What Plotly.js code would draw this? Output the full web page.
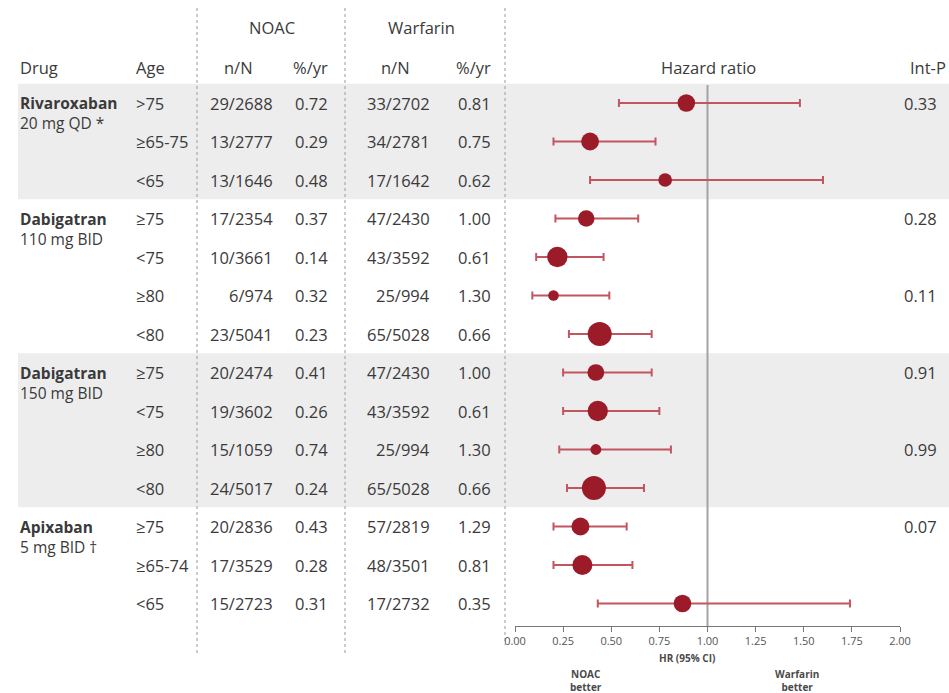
<!DOCTYPE html>
<html>
<head>
<meta charset="utf-8">
<script src="https://cdn.plot.ly/plotly-3.0.1.min.js"></script>
<style>html,body{margin:0;padding:0;background:#fff;}#chart{width:949px;height:693px;}</style>
</head>
<body>
<div id="chart"></div>
<script>
// ---- data ----
const drugs = ['Rivaroxaban', 'Dabigatran', 'Dabigatran', 'Apixaban'];
const doses = ['20 mg QD *', '110 mg BID', '150 mg BID', '5 mg BID †'];
const groupSizes = [3, 4, 4, 3];
const ages = ['>75', '≥65-75', '<65', '≥75', '<75', '≥80', '<80', '≥75', '<75', '≥80', '<80', '≥75', '≥65-74', '<65'];
const noacN = ['29/2688', '13/2777', '13/1646', '17/2354', '10/3661', '6/974', '23/5041', '20/2474', '19/3602', '15/1059', '24/5017', '20/2836', '17/3529', '15/2723'];
const noacRate = ['0.72', '0.29', '0.48', '0.37', '0.14', '0.32', '0.23', '0.41', '0.26', '0.74', '0.24', '0.43', '0.28', '0.31'];
const warfN = ['33/2702', '34/2781', '17/1642', '47/2430', '43/3592', '25/994', '65/5028', '47/2430', '43/3592', '25/994', '65/5028', '57/2819', '48/3501', '17/2732'];
const warfRate = ['0.81', '0.75', '0.62', '1.00', '0.61', '1.30', '0.66', '1.00', '0.61', '1.30', '0.66', '1.29', '0.81', '0.35'];
const hr = [0.89, 0.39, 0.78, 0.37, 0.22, 0.20, 0.44, 0.42, 0.43, 0.42, 0.41, 0.34, 0.35, 0.87];
const ciLow = [0.54, 0.20, 0.39, 0.21, 0.11, 0.09, 0.28, 0.25, 0.25, 0.23, 0.27, 0.20, 0.20, 0.43];
const ciHigh = [1.48, 0.73, 1.60, 0.64, 0.46, 0.49, 0.71, 0.71, 0.75, 0.81, 0.67, 0.58, 0.61, 1.74];
const intP = ['0.33', '', '', '0.28', '', '0.11', '', '0.91', '', '0.99', '', '0.07', '', ''];
const xTicks = [0, 0.25, 0.5, 0.75, 1, 1.25, 1.5, 1.75, 2];

// ---- derived ----
const rows = ages.map((_, i) => i);
const totalN = rows.map(i => +noacN[i].split('/')[1] + +warfN[i].split('/')[1]);
const W = 949, H = 693;
const ROWPX = 38.5;
const px = x => x / W;
const FONT = '"Open Sans", "Noto Sans", sans-serif';
const TXT = '#3a3a3a';
const fs = 16.5;
const maxN = Math.max.apply(null, totalN);
const markerD = totalN.map(n => 24 * Math.sqrt(n / maxN));

const trace = {
  type: 'scatter', mode: 'markers',
  x: hr, y: rows,
  marker: { color: '#9b1c28', size: markerD, sizemode: 'diameter', opacity: 1, line: { width: 0 } },
  error_x: {
    type: 'data', symmetric: false,
    array: rows.map(i => ciHigh[i] - hr[i]),
    arrayminus: rows.map(i => hr[i] - ciLow[i]),
    color: '#c25660', thickness: 2, width: 4
  },
  hoverinfo: 'x', showlegend: false, cliponaxis: false
};

const ann = [];
function T(text, x, y, anchor, opts) {
  opts = opts || {};
  ann.push(Object.assign({
    text: text, x: px(x), xref: 'paper', y: y, yref: 'y',
    xanchor: anchor, yanchor: 'middle', showarrow: false,
    font: { family: FONT, size: fs, color: TXT }
  }, opts));
}
// headers
T('NOAC', 272, -1.95, 'center');
T('Warfarin', 421, -1.95, 'center');
T('Drug', 18, -0.93, 'left');
T('Age', 134, -0.93, 'left');
T('n/N', 238, -0.93, 'center');
T('%/yr', 330, -0.93, 'right');
T('n/N', 395, -0.93, 'center');
T('%/yr', 493, -0.93, 'right');
T('Hazard ratio', 708, -0.93, 'center');
T('Int-P', 908, -0.93, 'left');

// drug labels (two lines in one text block; first line centred on the group's first row)
const drugFs = 15.5;
const lineGap = drugFs * 1.3;
let start = 0;
drugs.forEach((d, g) => {
  T('<b>' + d + '</b><br>' + doses[g], 18, start + (lineGap / 2) / ROWPX, 'left',
    { font: { family: FONT, size: drugFs, color: TXT }, align: 'left' });
  start += groupSizes[g];
});
rows.forEach(i => {
  T(ages[i], 134, i, 'left');
  T(noacN[i], 275, i, 'right');
  T(noacRate[i], 330, i, 'right');
  T(warfN[i], 432, i, 'right');
  T(warfRate[i], 493, i, 'right');
  if (intP[i]) T(intP[i], 902, i, 'left');
});

// bottom labels (paper)
function B(text, x, ypix, opts) {
  ann.push(Object.assign({
    text: text, x: px(x), xref: 'paper', y: 1 - ypix / H, yref: 'paper',
    xanchor: 'center', yanchor: 'middle', showarrow: false, align: 'center',
    font: { family: FONT, size: 10, color: '#4a4a4a' }
  }, opts || {}));
}
B('<b>HR (95% CI)</b>', 687, 658);
B('<b>NOAC<br>better</b>', 586, 680);
B('<b>Warfarin<br>better</b>', 797, 680);

// shapes
const shapes = [];
let s0 = 0;
groupSizes.forEach((n, g) => {
  if (g % 2 === 0) {
    shapes.push({ type: 'rect', layer: 'below', xref: 'paper', yref: 'y',
      x0: px(18), x1: 1, y0: s0 - 0.5, y1: s0 + n - 0.5,
      fillcolor: '#ededed', line: { width: 0 } });
  }
  s0 += n;
});
[[197, 655], [345, 655], [505, 645]].forEach(([x, yb]) => {
  shapes.push({ type: 'line', layer: 'below', xref: 'paper', yref: 'paper',
    x0: px(x), x1: px(x), y0: 1 - 8 / H, y1: 1 - yb / H,
    line: { color: '#9a9a9a', width: 1, dash: 'dot' } });
});
shapes.push({ type: 'line', layer: 'below', xref: 'x', yref: 'paper',
  x0: 1, x1: 1, y0: 1 - 85 / H, y1: 1 - 626 / H,
  line: { color: '#a3a3a3', width: 2 } });

const yTopVal = (0 - 103) / ROWPX;
const yBotVal = (626 - 103) / ROWPX;

const layout = {
  width: W, height: H,
  margin: { l: 0, r: 0, t: 0, b: 0, pad: 0 },
  paper_bgcolor: '#ffffff', plot_bgcolor: 'rgba(0,0,0,0)',
  font: { family: FONT, color: TXT },
  showlegend: false,
  xaxis: {
    domain: [px(515), px(900)], range: [0, 2],
    tickvals: xTicks, tickformat: '.2f',
    ticks: 'outside', ticklen: 5, tickcolor: '#777', tickwidth: 1,
    showline: true, linecolor: '#777', linewidth: 1,
    showgrid: false, zeroline: false,
    tickfont: { family: FONT, size: 11, color: '#555' },
    fixedrange: true
  },
  yaxis: {
    domain: [1 - 626 / H, 1], range: [yBotVal, yTopVal],
    showgrid: false, zeroline: false, showticklabels: false, showline: false, ticks: '',
    fixedrange: true
  },
  shapes: shapes,
  annotations: ann
};

Plotly.newPlot('chart', [trace], layout, { displayModeBar: false, staticPlot: true });
</script>
</body>
</html>
